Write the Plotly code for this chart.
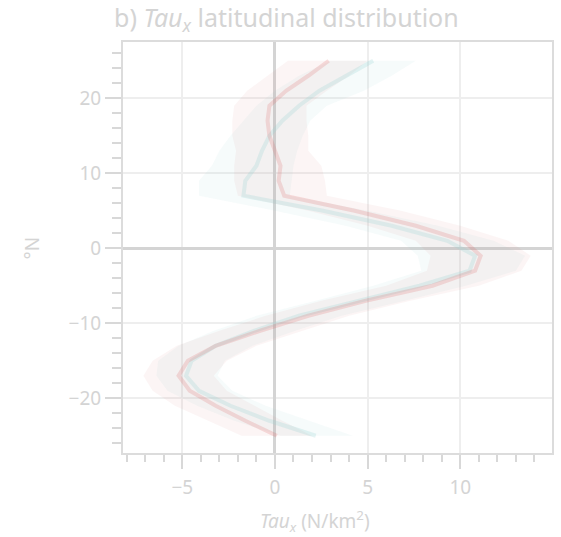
import plotly.graph_objects as go

lats = [25, 23, 21, 19, 17, 15, 13, 11, 9, 7, 5, 3, 1, -1, -3, -5, -7, -9, -11, -13, -15, -17, -19, -21, -23, -25]

red_mean = [2.9, 1.8, 0.6, -0.3, -0.4, -0.3, 0.0, 0.3, 0.2, 0.5, 4.3, 7.6, 10.2, 11.1, 10.8, 8.5, 4.9, 1.8, -0.8, -3.2, -4.7, -5.2, -4.6, -3.2, -1.6, 0.1]
red_lo = [0.7, -0.4, -1.5, -2.2, -2.3, -2.3, -2.1, -2.2, -2.2, -2.0, 1.8, 5.0, 7.6, 8.4, 8.2, 6.0, 2.5, -0.5, -3.0, -5.3, -6.6, -7.1, -6.6, -5.4, -3.6, -1.8]
red_hi = [5.0, 4.0, 2.8, 1.7, 1.7, 1.8, 1.8, 2.5, 2.7, 2.8, 6.8, 10.0, 12.6, 13.8, 13.3, 11.0, 7.3, 4.0, 1.5, -1.0, -2.6, -3.3, -2.6, -1.1, 0.4, 2.0]

teal_mean = [5.3, 3.8, 2.4, 1.3, 0.4, -0.3, -0.7, -1.0, -1.6, -1.7, 2.6, 6.3, 9.3, 10.8, 10.5, 7.8, 4.6, 1.3, -1.1, -3.2, -4.5, -4.8, -4.1, -2.4, -0.3, 2.2]
teal_lo = [3.0, 1.3, 0.0, -1.0, -1.7, -2.4, -3.0, -3.4, -4.1, -4.1, 0.0, 3.8, 6.8, 7.7, 7.9, 5.3, 2.2, -1.0, -3.3, -5.2, -6.3, -6.4, -5.8, -4.2, -2.2, 0.3]
teal_hi = [7.6, 6.3, 4.8, 2.8, 1.9, 1.5, 1.2, 1.0, 0.9, 0.8, 5.0, 8.8, 11.8, 13.5, 13.0, 10.3, 7.0, 3.6, 1.1, -1.2, -2.7, -3.1, -2.3, -0.5, 1.8, 4.2]

x_ticks = [-5, 0, 5, 10]
y_ticks = [-20, -10, 0, 10, 20]

TXT = "#d4d4d4"
FONT = "Noto Sans"

fig = go.Figure()

def band(lo, hi, color):
    return go.Scatter(x=lo + hi[::-1], y=lats + lats[::-1], fill="toself",
                      fillcolor=color, line=dict(width=0), mode="lines",
                      hoverinfo="skip", showlegend=False)

fig.add_trace(band(teal_lo, teal_hi, "rgba(150,210,210,0.09)"))
fig.add_trace(band(red_lo, red_hi, "rgba(215,130,130,0.08)"))
fig.add_trace(go.Scatter(x=teal_mean, y=lats, mode="lines",
                         line=dict(color="rgba(150,210,210,0.25)", width=4), showlegend=False))
fig.add_trace(go.Scatter(x=red_mean, y=lats, mode="lines",
                         line=dict(color="rgba(225,110,110,0.22)", width=4), showlegend=False))

fig.update_layout(
    width=561, height=537,
    margin=dict(l=123, r=7, t=42, b=84),
    paper_bgcolor="white", plot_bgcolor="white",
    font=dict(family=FONT, color=TXT, size=19),
    title=dict(text="b) <i>Tau</i><sub><i>x</i></sub> latitudinal distribution",
               x=114 / 561, xanchor="left", xref="container", y=1 - 18 / 537, yanchor="middle",
               yref="container", font=dict(size=25, color=TXT, family=FONT)),
    showlegend=False,
)

fig.update_xaxes(range=[-8.2, 14.95], tickvals=x_ticks, ticks="outside", ticklen=14,
                 tickwidth=1.5, tickcolor="#d8d8d8",
                 minor=dict(dtick=1, tick0=0, ticks="outside", ticklen=7, tickcolor="#d8d8d8", showgrid=False),
                 showgrid=True, gridcolor="#eeeeee", gridwidth=1.5,
                 zeroline=True, zerolinecolor="#d4d4d4", zerolinewidth=3,
                 showline=True, linecolor="#dcdcdc", linewidth=2, mirror=True,
                 tickfont=dict(size=19, color=TXT), ticklabelstandoff=2)
fig.update_yaxes(range=[-27.3, 27.5], tickvals=y_ticks, ticks="outside", ticklen=16,
                 tickwidth=1.5, tickcolor="#d8d8d8",
                 minor=dict(dtick=2, tick0=0, ticks="outside", ticklen=9, tickcolor="#d8d8d8", showgrid=False),
                 showgrid=True, gridcolor="#eeeeee", gridwidth=1.5,
                 zeroline=True, zerolinecolor="#d4d4d4", zerolinewidth=3,
                 showline=True, linecolor="#dcdcdc", linewidth=2, mirror=True,
                 tickfont=dict(size=19, color=TXT))

fig.add_annotation(text="<i>Tau</i><sub><i>x</i></sub> (N/km<sup>2</sup>)", xref="paper", yref="paper",
                   x=(316 - 123) / (554 - 123), y=-(521 - 453) / (453 - 42), xanchor="center", yanchor="middle",
                   showarrow=False, font=dict(size=19, color=TXT))
fig.add_annotation(text="°N", xref="paper", yref="paper", textangle=-90,
                   x=-(123 - 32) / (554 - 123), y=(453 - 248) / (453 - 42), xanchor="center", yanchor="middle",
                   showarrow=False, font=dict(size=19, color=TXT))

fig.write_html("out.html")
